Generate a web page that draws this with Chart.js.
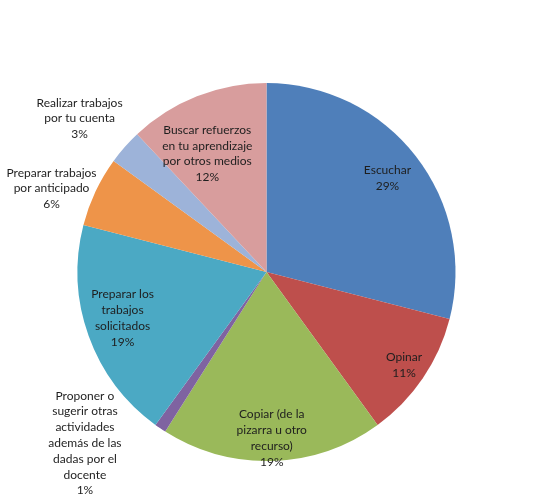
<!DOCTYPE html>
<html>
<head>
<meta charset="utf-8">
<script src="https://cdn.jsdelivr.net/npm/chart.js@4"></script>
<style>
    body { margin: 0; background: #fff; }
</style>
</head>
<body>
<canvas id="myChart" width="533" height="502"></canvas>
<script>
const labels = [
    ['Escuchar'],
    ['Opinar'],
    ['Copiar (de la', 'pizarra u otro', 'recurso)'],
    ['Proponer o', 'sugerir otras', 'actividades', 'además de las', 'dadas por el', 'docente'],
    ['Preparar los', 'trabajos', 'solicitados'],
    ['Preparar trabajos', 'por anticipado'],
    ['Realizar trabajos', 'por tu cuenta'],
    ['Buscar refuerzos', 'en tu aprendizaje', 'por otros medios']
];
const values = [29, 11, 19, 1, 19, 6, 3, 12];
const colors = ['#4F7FBA', '#BE4F4C', '#9AB95A', '#7F63A1', '#4BA9C4', '#EE9449', '#9DB3D9', '#D89D9D'];

// donde va cada etiqueta: factor del radio y giro extra (grados)
const labelPos = [
    {r: 0.81, a: 0},
    {r: 0.88, a: 0},
    {r: 0.88, a: 0},
    {r: 1.32, a: 12.5},
    {r: 0.8, a: 2},
    {r: 1.22, a: -4},
    {r: 1.28, a: -2},
    {r: 0.7, a: -5}
];

const pieLabels = {
    id: 'pieLabels',
    afterDatasetsDraw(chart) {
        const c = chart.ctx;
        const meta = chart.getDatasetMeta(0);
        const total = values.reduce((a, b) => a + b, 0);
        c.save();
        c.font = '12px Lato';
        c.fillStyle = '#1e1e1e';
        c.textAlign = 'center';
        c.textBaseline = 'middle';
        meta.data.forEach(function (arc, i) {
            const p = arc.getProps(['x', 'y', 'startAngle', 'endAngle', 'outerRadius']);
            const mid = (p.startAngle + p.endAngle) / 2 + labelPos[i].a * Math.PI / 180;
            const rr = p.outerRadius * labelPos[i].r;
            const cx = p.x + Math.cos(mid) * rr;
            const cy = p.y + Math.sin(mid) * rr;
            const lines = labels[i].concat([Math.round(values[i] / total * 100) + '%']);
            const lh = 15.8;
            lines.forEach(function (t, k) {
                c.fillText(t, cx, cy + (k - (lines.length - 1) / 2) * lh);
            });
        });
        c.restore();
    }
};

const ctx = document.querySelector('#myChart');
new Chart(ctx, {
    type: 'pie',
    data: {
        labels: labels.map(l => l.join(' ')),
        datasets: [
            {
                data: values,
                backgroundColor: colors,
                borderWidth: 0
            }
        ]
    },
    options: {
        responsive: false,
        animation: false,
        layout: {
            padding: {top: 83, bottom: 41, left: 0, right: 0}
        },
        plugins: {
            legend: {display: false},
            tooltip: {enabled: false}
        }
    },
    plugins: [pieLabels]
});
</script>
</body>
</html>
